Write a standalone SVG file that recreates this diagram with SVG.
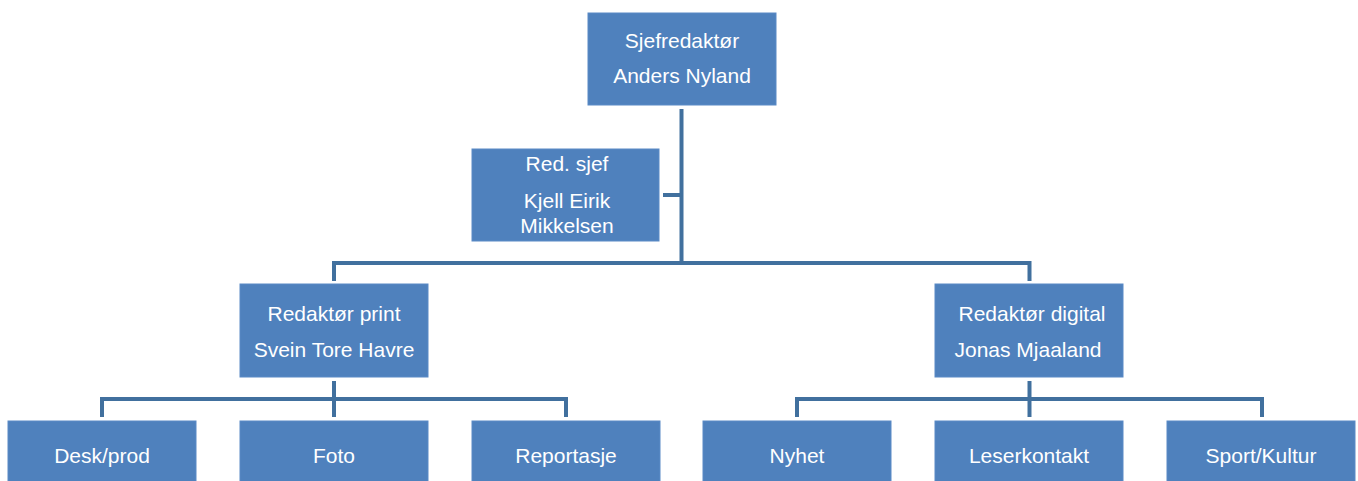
<svg xmlns="http://www.w3.org/2000/svg" width="1358" height="481" viewBox="0 0 1358 481">
<style>
.box{fill:#4F81BD;stroke:#5A8AC6;stroke-width:1}
.t{font-family:"Liberation Sans",Arial,sans-serif;font-size:21px;fill:#FFFFFF;text-anchor:middle}
.c{fill:none;stroke:#41709E;stroke-width:4;stroke-linejoin:miter;stroke-linecap:butt}
</style>
<rect width="1358" height="481" fill="#FFFFFF"/>
<g id="connectors">
<path class="c" d="M681.5 109 V263"/>
<path class="c" d="M663 195 H681.5"/>
<path class="c" d="M334 281 V263 H1029.5 V281"/>
<path class="c" d="M334 381 V417"/>
<path class="c" d="M102 417 V399 H566 V417"/>
<path class="c" d="M1029.5 381 V417"/>
<path class="c" d="M797 417 V399 H1262 V417"/>
</g>
<g id="sjefredaktor">
<rect class="box" x="588" y="13" width="188" height="92"/>
<text class="t" x="682" y="48">Sjefredaktør</text>
<text class="t" x="682" y="83">Anders Nyland</text>
</g>
<g id="redsjef">
<rect class="box" x="472" y="149" width="187" height="92"/>
<text class="t" x="567" y="171">Red. sjef</text>
<text class="t" x="567" y="208">Kjell Eirik</text>
<text class="t" x="567" y="233">Mikkelsen</text>
</g>
<g id="redaktor-print">
<rect class="box" x="240" y="284" width="188" height="93"/>
<text class="t" x="334" y="321">Redaktør print</text>
<text class="t" x="334" y="357">Svein Tore Havre</text>
</g>
<g id="redaktor-digital">
<rect class="box" x="935" y="284" width="188" height="93"/>
<text class="t" x="1032" y="321">Redaktør digital</text>
<text class="t" x="1028" y="357">Jonas Mjaaland</text>
</g>
<g id="desk">
<rect class="box" x="8" y="421" width="188" height="70"/>
<text class="t" x="102" y="463">Desk/prod</text>
</g>
<g id="foto">
<rect class="box" x="240" y="421" width="188" height="70"/>
<text class="t" x="334" y="463">Foto</text>
</g>
<g id="reportasje">
<rect class="box" x="472" y="421" width="188" height="70"/>
<text class="t" x="566" y="463">Reportasje</text>
</g>
<g id="nyhet">
<rect class="box" x="703" y="421" width="188" height="70"/>
<text class="t" x="797" y="463">Nyhet</text>
</g>
<g id="leserkontakt">
<rect class="box" x="935" y="421" width="188" height="70"/>
<text class="t" x="1029" y="463">Leserkontakt</text>
</g>
<g id="sport">
<rect class="box" x="1167" y="421" width="188" height="70"/>
<text class="t" x="1261" y="463">Sport/Kultur</text>
</g>
</svg>
